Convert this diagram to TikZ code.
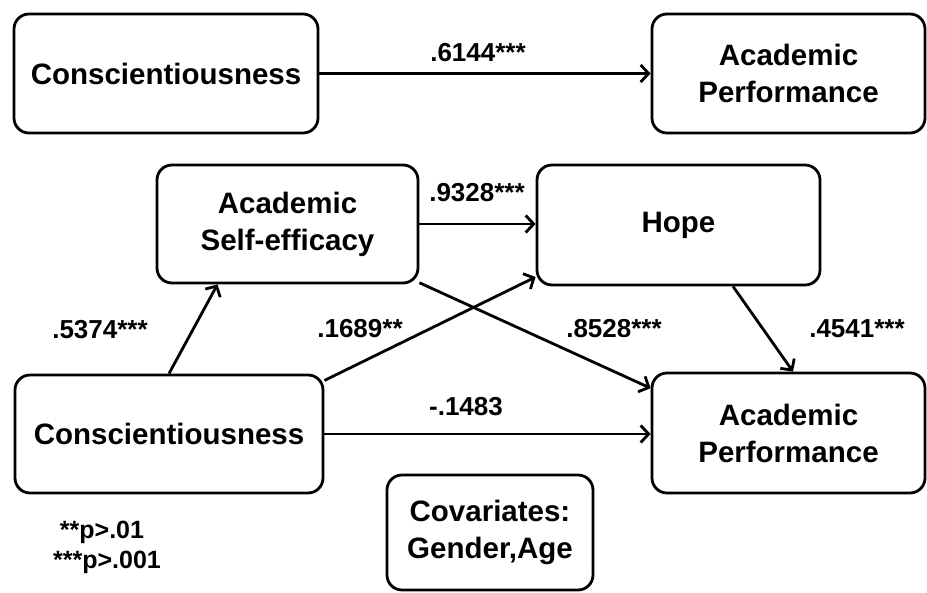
\documentclass[tikz,border=0pt]{standalone}
\usepackage{fontspec}
\setmainfont{Liberation Sans}
\usetikzlibrary{arrows.meta}
\tikzset{
  box/.style={draw=black, line width=2.8pt, rounded corners=15pt, fill=white, align=center,
    font=\fontsize{29.5}{37}\selectfont\bfseries, inner sep=0pt},
  conn/.style={line width=2.8pt, -{Straight Barb[length=8pt,width=17pt]}},
  lbl/.style={font=\fontsize{26}{30}\selectfont\bfseries, inner sep=0pt},
  leg/.style={font=\fontsize{25}{30}\selectfont\bfseries, inner sep=0pt}
}
\begin{document}
\begin{tikzpicture}[x=1pt,y=-1pt]
\useasboundingbox (0,0) rectangle (927,593);
\node[box, minimum width=304pt, minimum height=119pt] (c1) at (166,73.5) {Conscientiousness};
\node[box, minimum width=273pt, minimum height=119pt] (ap1) at (788.5,73.5) {Academic\\Performance};
\node[box, minimum width=261pt, minimum height=118pt] (se) at (287.5,224) {Academic\\Self-efficacy};
\node[box, minimum width=283pt, minimum height=120pt] (hope) at (678.5,225) {Hope};
\node[box, minimum width=308pt, minimum height=118pt] (c2) at (169,434) {Conscientiousness};
\node[box, minimum width=273pt, minimum height=120pt] (ap2) at (788.5,433) {Academic\\Performance};
\node[box, minimum width=206pt, minimum height=115pt] (cov) at (490,532.5) {Covariates:\\Gender,Age};

\draw[conn] (c1.east) -- (ap1.west);
\draw[conn] (se.east) -- (se.east -| hope.west);
\draw[conn] (c2.north) -- ([xshift=-70pt]se.south);
\draw[conn] (c2.19) -- (hope.200);
\draw[conn] (se.-24) -- (ap2.162);
\draw[conn] (c2.east) -- (c2.east -| ap2.west);
\draw[conn] ([xshift=54.5pt]hope.south) -- ([xshift=4.5pt]ap2.north);

\node[lbl] (l1) at (478,53) {.6144***};
\node[lbl] (l2) at (477,193) {.9328***};
\node[lbl] (l3) at (100,330) {.5374***};
\node[lbl] (l4) at (360,329) {.1689**};
\node[lbl] (l5) at (614,329) {.8528***};
\node[lbl] (l6) at (466,407) {-.1483};
\node[lbl] (l7) at (857,329) {.4541***};

\node[leg] (g1) at (102,532) {**p>.01};
\node[leg] (g2) at (107,562) {***p>.001};
\end{tikzpicture}
\end{document}
